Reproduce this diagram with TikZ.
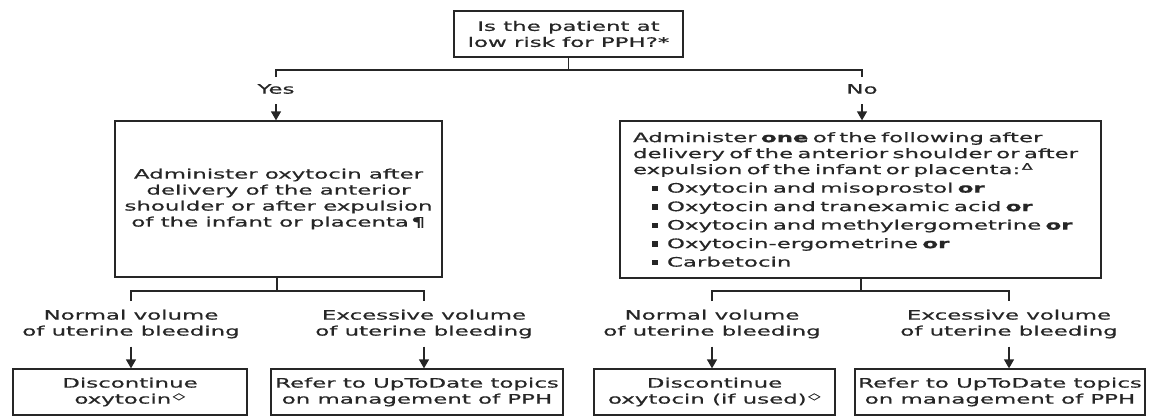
\documentclass[tikz,border=0pt]{standalone}
\usepackage{fontspec}
\setmainfont{DejaVu Sans}[FakeStretch=1.76, UprightFeatures={FakeBold=0.7}, BoldFeatures={FakeBold=1.2}]
\usetikzlibrary{arrows.meta,calc}
\newcommand{\sq}{\rule[1.5pt]{6pt}{5.5pt}}
\newcommand{\bul}{\hspace*{19pt}\makebox[15pt][l]{\sq}}
\newcommand{\supsym}[1]{\textsuperscript{\,#1}}
\begin{document}
\begin{tikzpicture}[x=1pt,y=-1pt,
  txt/.style={font=\fontsize{13}{16}\selectfont, text=black!85},
  box/.style={txt, draw=black!85, line width=1.3pt, inner sep=0pt, align=center},
  lbl/.style={txt, align=center, inner sep=0pt},
  ln/.style={draw=black!85, line width=1.3pt},
  arr/.style={ln, -{Triangle[width=10pt,length=9pt]}}
]
\useasboundingbox (0,0) rectangle (1150,416);

% boxes
\node[box, minimum width=229pt, minimum height=46pt] (q) at (568.5,34) {Is the patient at\\low risk for PPH?*};
\node[box, minimum width=327pt, minimum height=156pt] (L) at (278.5,199) {Administer oxytocin after\\delivery of the anterior\\shoulder or after expulsion\\of the infant or placenta\,¶};
\node[box, minimum width=481pt, minimum height=157pt, align=left, text width=455pt, inner xsep=13pt] (R) at (860.5,199.5) {Administer \textbf{one} of the following after\\
delivery of the anterior shoulder or after\\
expulsion of the infant or placenta:\supsym{Δ}\\[2.5pt]
\bul Oxytocin and misoprostol \textbf{or}\\[2.5pt]
\bul Oxytocin and tranexamic acid \textbf{or}\\[2.5pt]
\bul Oxytocin and methylergometrine \textbf{or}\\[2.5pt]
\bul Oxytocin-ergometrine \textbf{or}\\[2.5pt]
\bul Carbetocin};

\node[box, minimum width=234pt, minimum height=46pt] (b1) at (130,392) {Discontinue\\oxytocin\supsym{◇}};
\node[box, minimum width=292pt, minimum height=46pt] (b2) at (417,392) {Refer to UpToDate topics\\on management of PPH};
\node[box, minimum width=241pt, minimum height=46pt] (b3) at (714.5,392) {Discontinue\\oxytocin (if used)\supsym{◇}};
\node[box, minimum width=290pt, minimum height=46pt] (b4) at (1000,392) {Refer to UpToDate topics\\on management of PPH};

% top branch
\coordinate (ty) at (276,70);
\coordinate (tn) at (862,70);
\node[lbl] (yes) at (276,89) {Yes};
\node[lbl] (no) at (862,89) {No};
\draw[ln] (q.south) -- (q.south |- ty);
\draw[ln] ($(ty)+(0,7)$) -- (ty) -- (tn) -- ++(0,7);
\draw[arr] ([yshift=-10pt]yes.south) -- (yes.south |- L.north);
\draw[arr] ([yshift=-10pt]no.south) -- (no.south |- R.north);

% left lower branch
\coordinate (lc) at (277,291);
\coordinate (l1) at (131,291);
\coordinate (l2) at (424,291);
\node[lbl] (n1) at (131,324) {Normal volume\\of uterine bleeding};
\node[lbl] (e1) at (424,324) {Excessive volume\\of uterine bleeding};
\draw[ln] (lc |- L.south) -- (lc);
\draw[ln] ($(l1)+(0,10)$) -- (l1) -- (l2) -- ++(0,10);
\draw[arr] ([yshift=-8pt]n1.south) -- (n1.south |- b1.north);
\draw[arr] ([yshift=-8pt]e1.south) -- (e1.south |- b2.north);

% right lower branch
\coordinate (rc) at (861,291);
\coordinate (r1) at (712,291);
\coordinate (r2) at (1009,291);
\node[lbl] (n2) at (712,324) {Normal volume\\of uterine bleeding};
\node[lbl] (e2) at (1009,324) {Excessive volume\\of uterine bleeding};
\draw[ln] (rc |- R.south) -- (rc);
\draw[ln] ($(r1)+(0,10)$) -- (r1) -- (r2) -- ++(0,10);
\draw[arr] ([yshift=-8pt]n2.south) -- (n2.south |- b3.north);
\draw[arr] ([yshift=-8pt]e2.south) -- (e2.south |- b4.north);
\end{tikzpicture}
\end{document}
